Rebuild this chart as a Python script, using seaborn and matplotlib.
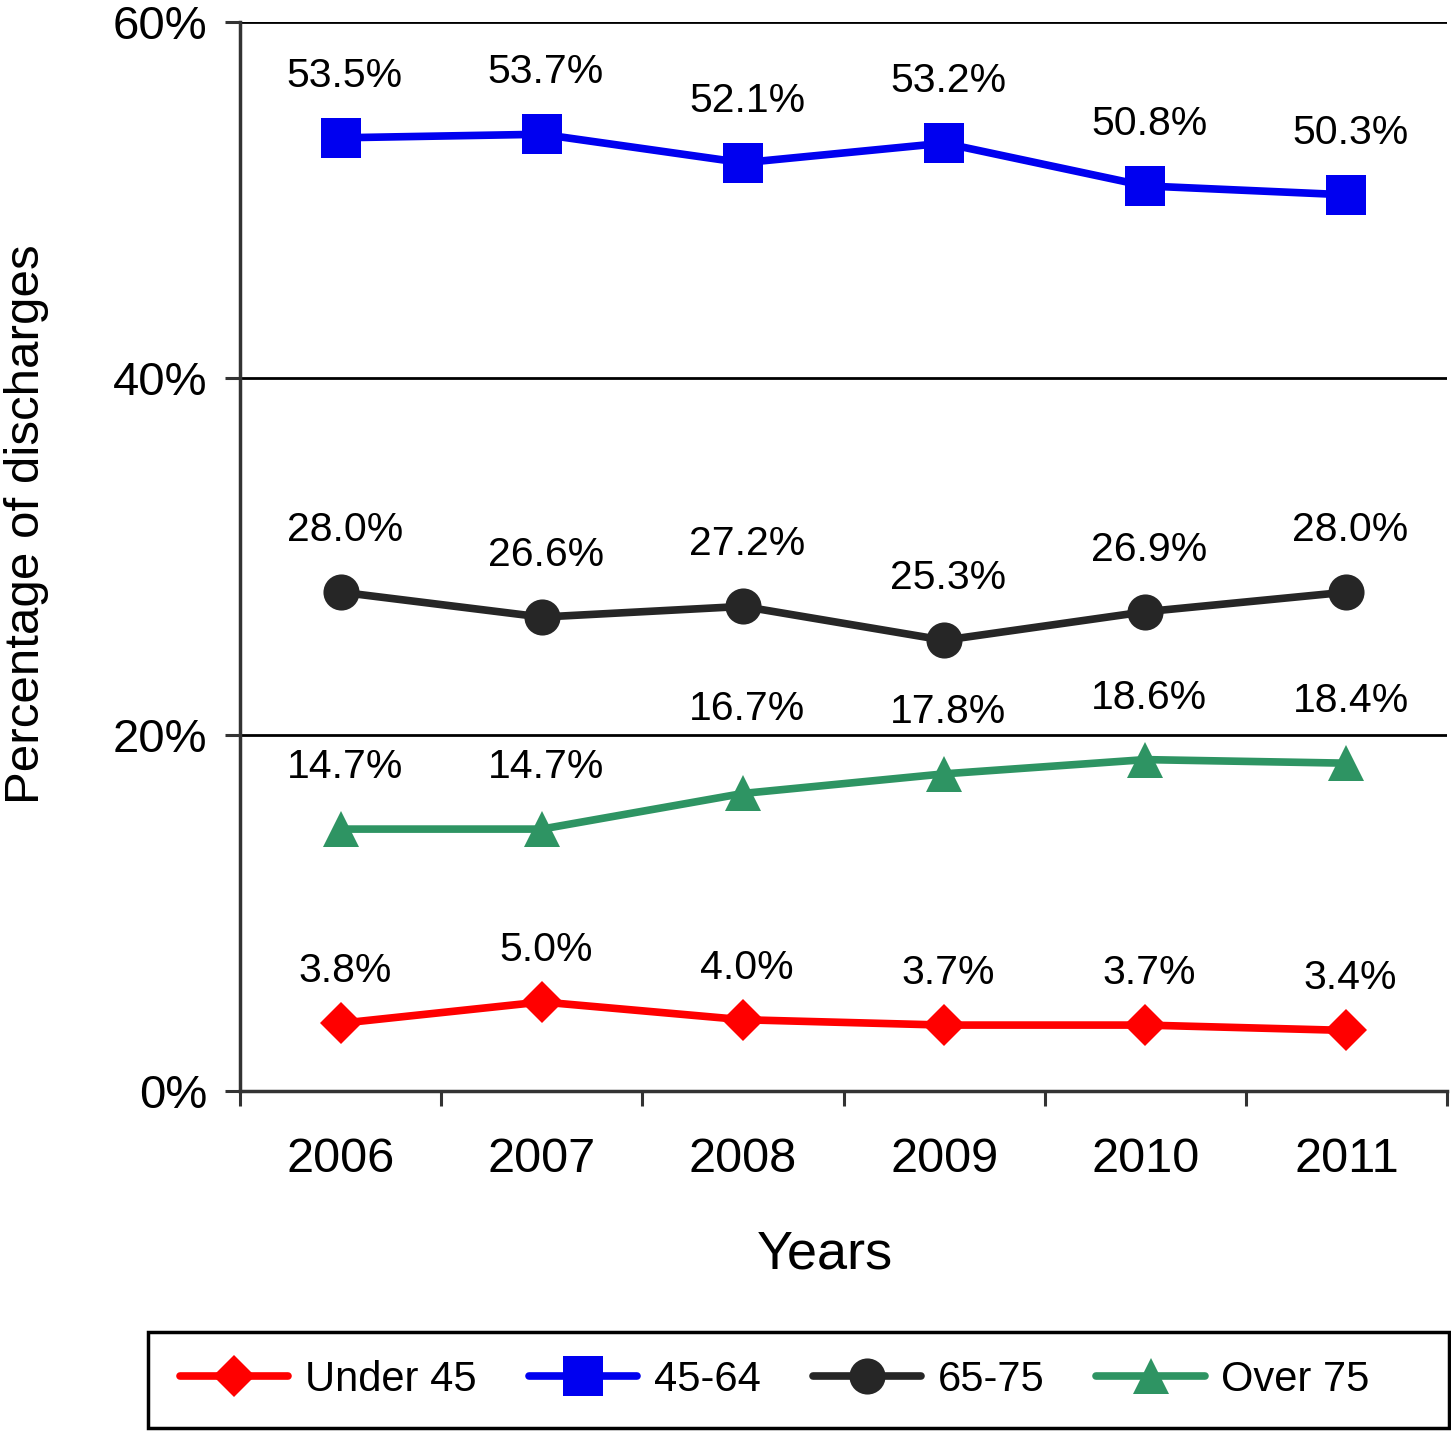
import matplotlib
matplotlib.use("Agg")
import matplotlib.pyplot as plt
from matplotlib.patches import Rectangle
import seaborn as sns
import pandas as pd
import numpy as np

years = ["2006", "2007", "2008", "2009", "2010", "2011"]
groups = ["Under 45", "45-64", "65-75", "Over 75"]
under_45 = [3.8, 5.0, 4.0, 3.7, 3.7, 3.4]
age_45_64 = [53.5, 53.7, 52.1, 53.2, 50.8, 50.3]
age_65_75 = [28.0, 26.6, 27.2, 25.3, 26.9, 28.0]
over_75 = [14.7, 14.7, 16.7, 17.8, 18.6, 18.4]
y_ticks = [0, 20, 40, 60]

series = {"Under 45": under_45, "45-64": age_45_64, "65-75": age_65_75, "Over 75": over_75}
rows = []
for g in groups:
    for i, (yr, v) in enumerate(zip(years, series[g])):
        rows.append({"pos": i, "Year": yr, "value": v, "group": g})
df = pd.DataFrame(rows)

colors = {"Under 45": "#FF0000", "45-64": "#0000F0", "65-75": "#262626", "Over 75": "#2E9463"}
markers = {"Under 45": "D", "45-64": "s", "65-75": "o", "Over 75": "^"}
msizes = {"Under 45": 21, "45-64": 29, "65-75": 26, "Over 75": 26}

sns.set_style("white")
plt.rcParams["font.family"] = ["Liberation Sans", "DejaVu Sans"]
for k in ["text.color", "axes.labelcolor", "xtick.labelcolor", "ytick.labelcolor"]:
    plt.rcParams[k] = "black"

fig = plt.figure(figsize=(14.51, 14.31), dpi=100)
ax = fig.add_axes([240/1451, 1-1091/1431, 1207/1451, 1069/1431])

for g in groups:
    sub = df[df["group"] == g]
    sns.lineplot(data=sub, x="pos", y="value", color=colors[g], marker=markers[g],
                 markersize=msizes[g], markeredgewidth=0, linewidth=5.5, ax=ax,
                 label=g, legend=False)

px = 0.72
for g in groups:
    for i, v in enumerate(series[g]):
        off = 62
        if g == "Over 75" and i == 2:
            off = 84
        if g == "Under 45":
            off = 52
        ax.annotate(f"{v:.1f}%", (i, v), xytext=(3, off*px), textcoords="offset points",
                    ha="center", va="center", fontsize=29.5, color="black")

ax.set_xlim(-0.5, 5.5)
ax.set_ylim(0, 60)
ax.set_yticks(y_ticks)
ax.set_yticklabels([f"{t}%" for t in y_ticks], fontsize=34)
ax.set_xticks(range(len(years)))
ax.set_xticklabels(years, fontsize=35)
ax.set_xticks(np.arange(-0.5, 6.0, 1.0), minor=True)
ax.tick_params(axis="x", which="major", bottom=True, length=0, pad=33)
ax.tick_params(axis="x", which="minor", bottom=True, length=15*px, width=2.2, color="#333333", direction="out")
ax.tick_params(axis="y", which="major", left=True, length=15*px, width=2.2, color="#333333", direction="out", pad=13)
ax.grid(axis="y", color="black", linewidth=2)
ax.set_axisbelow(True)
for s in ["top", "right"]:
    ax.spines[s].set_visible(False)
for s in ["left", "bottom"]:
    ax.spines[s].set_color("#333333")
    ax.spines[s].set_linewidth(2.5)

ax.set_xlabel("Years", fontsize=39)
ax.xaxis.set_label_coords(0.485, -0.13)
ax.set_ylabel("Percentage of discharges", fontsize=35.5)
ax.yaxis.set_label_coords(-0.158, 0.53)

# legend frame
fig.add_artist(Rectangle((148/1451, 3/1431), 1301/1451, 96/1431, transform=fig.transFigure,
                         fill=False, edgecolor="black", linewidth=2.5))
handles, labels = ax.get_legend_handles_labels()
leg = fig.legend(handles, labels, loc="center left", ncol=4,
                 bbox_to_anchor=(180/1451, 51/1431),
                 fontsize=30, frameon=False, handlelength=2.6,
                 borderaxespad=0, borderpad=0, handletextpad=0.4, columnspacing=1.25)

fig.savefig("out.png", dpi=100)
